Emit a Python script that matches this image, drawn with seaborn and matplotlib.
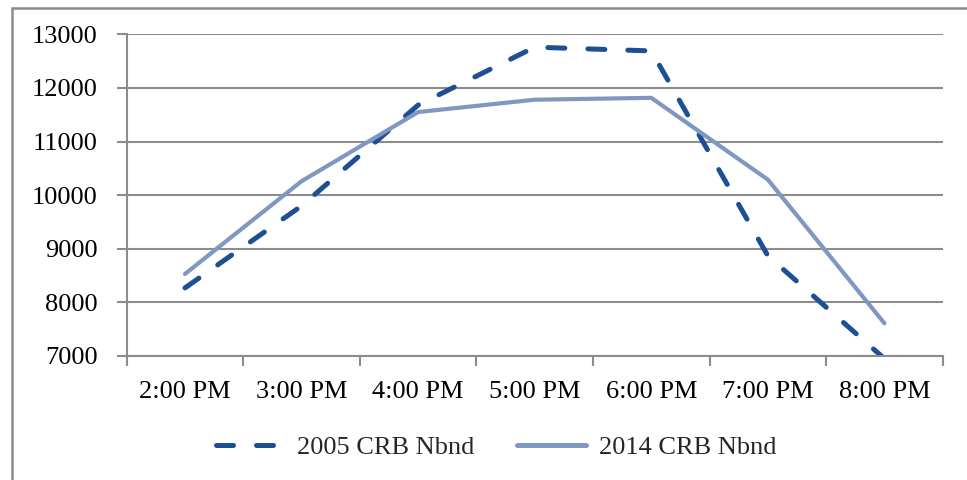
import matplotlib
matplotlib.use("Agg")
import matplotlib.pyplot as plt
import seaborn as sns
import pandas as pd
from matplotlib.patches import Rectangle
from matplotlib.lines import Line2D

hours = ["2:00 PM", "3:00 PM", "4:00 PM", "5:00 PM", "6:00 PM", "7:00 PM", "8:00 PM"]
crb_2005 = [8270, 9800, 11680, 12760, 12690, 8870, 6950]
crb_2014 = [8530, 10260, 11550, 11780, 11815, 10290, 7610]
series_names = ["2005 CRB Nbnd", "2014 CRB Nbnd"]
y_ticks = [7000, 8000, 9000, 10000, 11000, 12000, 13000]

df = pd.DataFrame({
    "hour": hours * 2,
    "value": crb_2005 + crb_2014,
    "series": [series_names[0]] * len(hours) + [series_names[1]] * len(hours),
})

sns.set_theme(style="white")
plt.rcParams["font.family"] = ["Liberation Serif", "DejaVu Serif"]

fig = plt.figure(figsize=(9.67, 4.8), dpi=100)
ax = fig.add_axes([126.7 / 967, 1 - 356 / 480, (942.7 - 126.7) / 967, (356 - 34.3) / 480])

dark = "#1C4F93"
light = "#7F97C1"
dash_pat = (3.4, 4.6)
sns.lineplot(data=df, x="hour", y="value", hue="series", style="series",
             palette=[dark, light], dashes=[dash_pat, ""],
             linewidth=3.6, ax=ax, legend=False, sort=False)
lines = ax.get_lines()
lines[0].set_solid_capstyle("round")
lines[0].set_dash_capstyle("round")
lines[1].set_linewidth(3.0)
lines[1].set_solid_capstyle("round")

ax.set_ylim(7000, 13000)
ax.set_xlim(-0.5, len(hours) - 0.5)
ax.set_yticks(y_ticks)
ax.set_yticklabels([str(v) for v in y_ticks])
ax.set_xticks([i - 0.5 for i in range(len(hours) + 1)])
ax.set_xticklabels([])
ax.set_xticks(range(len(hours)), minor=True)
ax.set_xticklabels(hours, minor=True)
ax.set_xlabel("")
ax.set_ylabel("")

grey = "#8C8C8C"
ax.grid(axis="y", color=grey, linewidth=1.5)
ax.set_axisbelow(True)
for s in ["top", "right"]:
    ax.spines[s].set_visible(False)
for s in ["left", "bottom"]:
    ax.spines[s].set_color(grey)
    ax.spines[s].set_linewidth(1.5)
ax.tick_params(axis="y", which="major", length=7, width=1.5, color=grey,
               direction="out", left=True, pad=14, labelsize=19, labelcolor="black")
ax.tick_params(axis="x", which="major", length=7, width=1.5, color=grey,
               direction="out", bottom=True)
ax.tick_params(axis="x", which="minor", length=0, pad=18, labelsize=19,
               labelcolor="black", bottom=True)

handles = [
    Line2D([], [], color=dark, linewidth=3.6, linestyle=(0, dash_pat),
           dash_capstyle="round"),
    Line2D([], [], color=light, linewidth=3.6, solid_capstyle="round"),
]
fig.legend(handles, series_names, loc="center", bbox_to_anchor=(496 / 967, 1 - 447 / 480),
           ncol=2, frameon=False, fontsize=19, handlelength=2.6, handletextpad=0.5,
           columnspacing=1.6)

fig.patches.append(Rectangle((12 / 967, -0.1), 1.2, 1 - 8 / 480 + 0.1,
                             transform=fig.transFigure, fill=False,
                             edgecolor=grey, linewidth=1.8, zorder=0))

fig.savefig("out.png", dpi=100)
